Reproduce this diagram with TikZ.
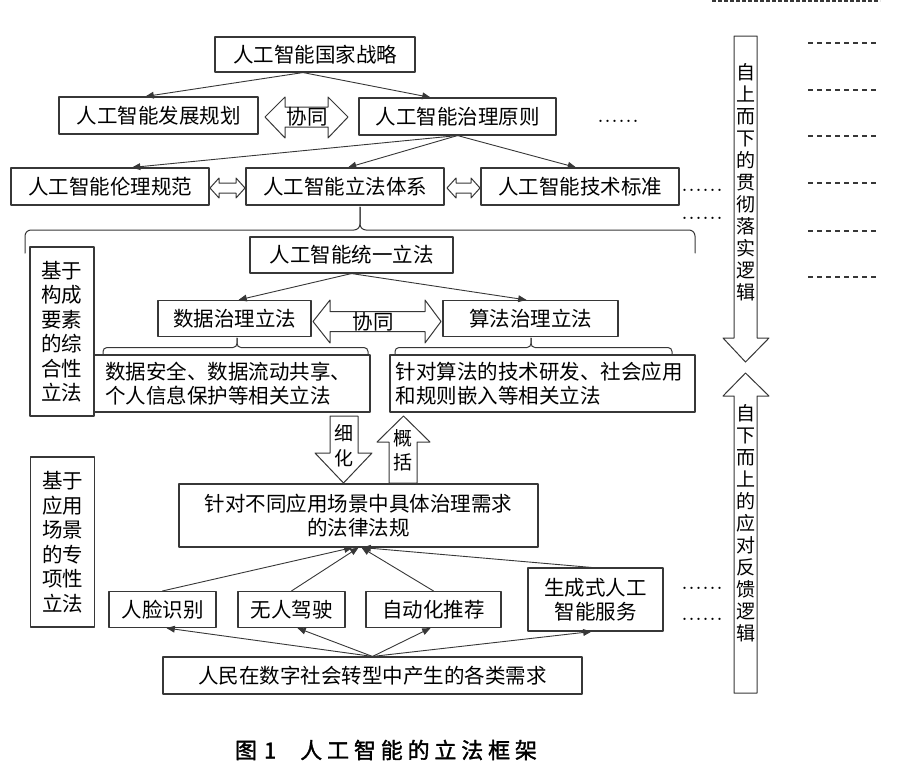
\documentclass[tikz,border=0pt]{standalone}
\usepackage{fontspec}
\newfontfamily\cjk{Noto Sans CJK SC}
\newfontfamily\cjkcap[FakeBold=1.6,LetterSpace=22]{Noto Sans CJK SC}
\usepackage{tikz}
\usetikzlibrary{arrows}
\definecolor{linegray}{RGB}{55,55,55}

\begin{document}
\begin{tikzpicture}[line cap=round,line join=round,>=triangle 45,x=1pt,y=-1pt,
  box/.style={draw=linegray,line width=1.1pt,inner sep=0pt,align=center,
    font=\cjk\fontsize{20.5}{24}\selectfont},
  sidebox/.style={box,minimum width=64,minimum height=169,
    font=\cjk\fontsize{20.5}{24.5}\selectfont},
  conn/.style={draw=linegray,line width=0.9pt,->},
  hollow/.style={draw=linegray,line width=1pt,fill=white},
  flowtext/.style={align=center,inner sep=0pt,font=\cjk\fontsize{19}{22}\selectfont},
  dotline/.style={anchor=base west,inner sep=0pt,font=\fontsize{28}{28}\selectfont},
  dashline/.style={draw=linegray,line width=1.4pt,line cap=butt,dash pattern=on 5pt off 4pt},
  bracepath/.style={draw=linegray,line width=1pt,rounded corners=6pt}]
\useasboundingbox (0,0) rectangle (900,782);
% top level
\node[box,minimum width=200,minimum height=35] (strat) at (315,54.5) {人工智能国家战略};
\node[box,minimum width=199,minimum height=37] (plan) at (158.5,115.5) {人工智能发展规划};
\node[box,minimum width=197,minimum height=37] (principle) at (457.5,116.5) {人工智能治理原则};
\node[dotline] (dotsA) at (597,122) {......};
\draw[hollow] (265,117)--(285,97)--(285,107)--(328,107)--(328,97)--(348,117)
  --(328,138)--(328,127)--(285,127)--(285,138)--cycle;
\node[box,draw=none] (syncA) at (307,117) {协同};
\draw[conn] ([xshift=-12]strat.south) -- ([xshift=-13]plan.north);
\draw[conn] ([xshift=-12]strat.south) -- ([xshift=-27]principle.north);
%
\node[box,minimum width=198,minimum height=37] (ethic) at (110,186.5) {人工智能伦理规范};
\node[box,minimum width=198,minimum height=37] (lawsys) at (345,186.5) {人工智能立法体系};
\node[box,minimum width=198,minimum height=37] (techstd) at (580,186.5) {人工智能技术标准};
\node[dotline] (dotsB) at (681,191) {......};
\node[dotline] (dotsC) at (681,219) {......};
\draw[hollow] (210,188)--(219,178)--(219,183)--(236,183)--(236,178)--(245,188)
  --(236,198)--(236,193)--(219,193)--(219,198)--cycle;
\draw[hollow] (447,188)--(456,178)--(456,183)--(471,183)--(471,178)--(480,188)
  --(471,198)--(471,193)--(456,193)--(456,198)--cycle;
\draw[conn] (principle.south) -- ([xshift=22]ethic.north);
\draw[conn] (principle.south) -- ([xshift=3]lawsys.north);
\draw[conn] (principle.south) -- ([xshift=-4]techstd.north);
% brace under lawsys
\draw[bracepath] (25,253)--(25,230)--(360,230)--(360,207);
\draw[bracepath] (695,253)--(695,230)--(360,230)--(360,207);
% comprehensive legislation
\node[box,minimum width=203,minimum height=36] (unified) at (351.5,255) {人工智能统一立法};
\node[sidebox] (basisA) at (62,331.5) {基于\\构成\\要素\\的综\\合性\\立法};
\node[box,minimum width=153,minimum height=36] (data) at (234.5,318.5) {数据治理立法};
\node[box,minimum width=175,minimum height=36] (algo) at (530.5,318.5) {算法治理立法};
\draw[hollow] (313,321.5)--(330,300)--(330,311.5)--(425,311.5)--(425,300)--(441,321.5)
  --(425,343)--(425,331.5)--(330,331.5)--(330,343)--cycle;
\node[box,draw=none] (syncB) at (373,321.5) {协同};
\draw[conn] (unified.south) -- ([xshift=4]data.north);
\draw[conn] (unified.south) -- ([xshift=-4]algo.north);
\draw[bracepath,rounded corners=4pt] (103,355)--(103,347.5)--(237,347.5)--(237,338);
\draw[bracepath,rounded corners=4pt] (368,355)--(368,347.5)--(237,347.5)--(237,338);
\draw[bracepath,rounded corners=4pt] (395,355)--(395,347.5)--(531,347.5)--(531,338);
\draw[bracepath,rounded corners=4pt] (672,355)--(672,347.5)--(531,347.5)--(531,338);
\node[box,minimum width=276,minimum height=57,align=left,text width=254] (datadet)
  at (232,383.5) {数据安全、数据流动共享、\\个人信息保护等相关立法};
\node[box,minimum width=305,minimum height=57,align=left,text width=294] (algodet)
  at (542.5,383.5) {针对算法的技术研发、社会应用\\和规则嵌入等相关立法};
% refine / generalize
\draw[hollow] (330,416)--(358,416)--(358,453)--(372,453)--(343.5,483)--(315,453)--(330,453)--cycle;
\node[flowtext,font=\cjk\fontsize{19}{25}\selectfont] (refine) at (344,446) {细\\化};
\draw[hollow] (389,483)--(389,442)--(377,442)--(403.5,416)--(430,442)--(417,442)--(417,483)--cycle;
\node[flowtext,font=\cjk\fontsize{19}{24}\selectfont] (generalize) at (403,450) {概\\括};
% scenario legislation
\node[box,minimum width=359,minimum height=63] (laws) at (358.5,515.5)
  {针对不同应用场景中具体治理需求\\的法律法规};
\node[sidebox,minimum height=170] (basisB) at (62.5,542) {基于\\应用\\场景\\的专\\项性\\立法};
\node[box,minimum width=107,minimum height=36] (face) at (162.5,609.5) {人脸识别};
\node[box,minimum width=107,minimum height=36] (drive) at (291.5,609.5) {无人驾驶};
\node[box,minimum width=135,minimum height=36] (recom) at (433.5,609.5) {自动化推荐};
\node[box,minimum width=135,minimum height=63] (genai) at (595.5,599.5) {生成式人工\\智能服务};
\node[dotline] (dotsD) at (681,589) {......};
\node[dotline] (dotsE) at (681,620) {......};
\node[box,minimum width=419,minimum height=37] (people) at (372.5,675.5)
  {人民在数字社会转型中产生的各类需求};
\draw[conn] (face.north) -- ([xshift=-6]laws.south);
\draw[conn] (drive.north) -- (laws.south);
\draw[conn] (recom.north) -- ([xshift=3]laws.south);
\draw[conn] ([xshift=-4]genai.north) -- ([xshift=4]laws.south);
\draw[conn] (people.north) -- ([xshift=4]face.south);
\draw[conn] (people.north) -- ([xshift=6]drive.south);
\draw[conn] (people.north) -- ([xshift=-3]recom.south);
\draw[conn] (people.north) -- ([xshift=-4]genai.south);
% right side logic arrows
\draw[hollow] (734,36)--(757,36)--(757,338)--(769,338)--(745.5,362)--(723,338)--(734,338)--cycle;
\node[flowtext] (downflow) at (745.5,182) {自\\上\\而\\下\\的\\贯\\彻\\落\\实\\逻\\辑};
\draw[hollow] (745.5,373)--(769,396)--(757,396)--(757,693)--(734,693)--(734,396)--(723,396)--cycle;
\node[flowtext] (upflow) at (745.5,523.5) {自\\下\\而\\上\\的\\应\\对\\反\\馈\\逻\\辑};
\draw[dashline,line width=2.4pt,dash pattern=on 4pt off 2pt] (712,1.2) -- (880,1.2);
\foreach \y in {43,90,136,183,231,277}
  \draw[dashline] (808,\y) -- (878,\y);
% caption
\node[inner sep=0pt,font=\cjkcap\fontsize{22}{26}\selectfont]
  (caption) at (386,750) {图\hspace{7pt}1\hspace{24pt}人工智能的立法框架};
\end{tikzpicture}
\end{document}
